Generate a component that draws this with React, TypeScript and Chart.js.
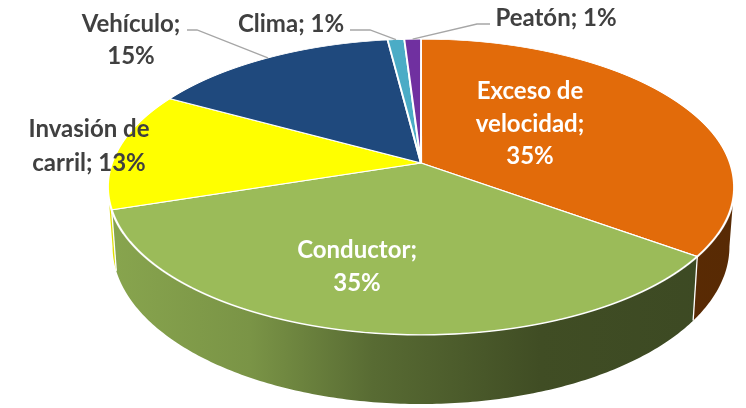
import React, { useEffect, useRef } from "react";
import { Chart, registerables } from "chart.js";

Chart.register(...registerables);

const categories = ["Exceso de velocidad", "Conductor", "Invasión de carril", "Vehículo", "Clima", "Peatón"];
const values = [35, 35, 13, 15, 1, 1];
const percentLabels = ["35%", "35%", "13%", "15%", "1%", "1%"];
const sliceColors = ["#E26B0A", "#9BBB59", "#FFFF00", "#1F497D", "#4BACC6", "#7030A0"];

// perspective view of the pie disk on screen
const CX = 421; // screen x of pie centre
const Y0 = 163; // screen y of pie centre (vertex)
const SX = 309; // horizontal scale
const SY = 144; // vertical scale
const K = 0.162; // perspective strength
const DEPTH = 58; // slab thickness
const BOTTOM_SHRINK = 0.985;

const FONT = "bold 24px Lato, 'Open Sans', sans-serif";

type LabelLayout = {
  lines: string[];
  x: number;
  y: number[];
  color: string;
  leader?: { from: [number, number]; elbow: [number, number] };
};
const labelLayout: LabelLayout[] = [
  { lines: ["Exceso de", "velocidad;", percentLabels[0]], x: 530, y: [90, 123, 155], color: "#FFFFFF" },
  { lines: ["Conductor;", percentLabels[1]], x: 357, y: [249, 282], color: "#FFFFFF" },
  { lines: ["Invasión de", "carril; " + percentLabels[2]], x: 89, y: [128, 162], color: "#404040" },
  { lines: ["Vehículo;", percentLabels[3]], x: 131, y: [23, 55], color: "#404040", leader: { from: [187, 30], elbow: [197, 30] } },
  { lines: ["Clima; " + percentLabels[4]], x: 291, y: [23], color: "#404040", leader: { from: [350, 30], elbow: [370, 30] } },
  { lines: ["Peatón; " + percentLabels[5]], x: 556, y: [17], color: "#404040", leader: { from: [490, 24], elbow: [477, 24] } },
];

function hexToRgb(h: string) {
  const n = parseInt(h.slice(1), 16);
  return [(n >> 16) & 255, (n >> 8) & 255, n & 255];
}
function shade(h: string, f: number) {
  const [r, g, b] = hexToRgb(h);
  return `rgb(${Math.round(r * f)},${Math.round(g * f)},${Math.round(b * f)})`;
}
const shadeStops: [number, number][] = [
  [108, 0.88],
  [250, 0.79],
  [373, 0.57],
  [540, 0.41],
  [734, 0.39],
];

// project a point of the unit disk (u right, v toward viewer), h = 0 top face, 1 bottom
function project(u: number, v: number, h: number): [number, number] {
  const w = 1 - K * v;
  const sx = h ? BOTTOM_SHRINK : 1;
  return [CX + (SX * u * sx) / w, Y0 + (SY * v + DEPTH * h) / w];
}

const pie3dPlugin = {
  id: "pie3d",
  beforeDatasetsDraw(chart: any) {
    const ctx = chart.ctx as CanvasRenderingContext2D;
    const meta = chart.getDatasetMeta(0);
    const arcs = meta.data as any[];
    if (!arcs.length) return;
    const lo = Math.asin(K);
    const hi = Math.PI - lo;
    // side walls
    arcs.forEach((arc: any, i: number) => {
      const a0 = Math.max(arc.startAngle, lo);
      const a1 = Math.min(arc.endAngle, hi);
      if (a1 <= a0) return;
      const n = Math.max(4, Math.ceil((a1 - a0) * 80));
      const top: [number, number][] = [];
      const bot: [number, number][] = [];
      for (let j = 0; j <= n; j++) {
        const t = a0 + ((a1 - a0) * j) / n;
        top.push(project(Math.cos(t), Math.sin(t), 0));
        bot.push(project(Math.cos(t), Math.sin(t), 1));
      }
      const g = ctx.createLinearGradient(108, 0, 734, 0);
      shadeStops.forEach(([x, f]) => g.addColorStop((x - 108) / (734 - 108), shade(sliceColors[i], f)));
      ctx.save();
      ctx.beginPath();
      top.forEach((p, j) => (j ? ctx.lineTo(p[0], p[1]) : ctx.moveTo(p[0], p[1])));
      for (let j = bot.length - 1; j >= 0; j--) ctx.lineTo(bot[j][0], bot[j][1]);
      ctx.closePath();
      ctx.fillStyle = g;
      ctx.fill();
      if (arc.startAngle > lo) {
        ctx.strokeStyle = "#FFFFFF";
        ctx.lineWidth = 1.3;
        ctx.beginPath();
        ctx.moveTo(top[0][0], top[0][1]);
        ctx.lineTo(bot[0][0], bot[0][1]);
        ctx.stroke();
      }
      ctx.restore();
    });

    // top face: library arcs drawn row by row with a local affine approximation of the perspective
    const a = arcs[0];
    const R = a.outerRadius;
    const vOf = (y: number) => {
      const t = y - Y0;
      return t / (SY + K * t);
    };
    const yStart = Math.floor(Y0 - SY / (1 + K)) - 3;
    const yEnd = Math.ceil(Y0 + SY / (1 - K)) + 3;
    for (let y = yStart; y < yEnd; y++) {
      const v1 = vOf(y);
      const v2 = vOf(y + 1);
      const vm = (v1 + v2) / 2;
      const s = 1 / (1 - K * vm);
      const m = 1 / (v2 - v1);
      ctx.save();
      ctx.setTransform(1, 0, 0, 1, 0, 0);
      ctx.beginPath();
      ctx.rect(0, y, chart.width, 1);
      ctx.clip();
      ctx.setTransform((SX * s) / R, 0, 0, m / R, CX - (SX * s * a.x) / R, y - m * v1 - (m * a.y) / R);
      arcs.forEach((arc: any) => arc.draw(ctx));
      ctx.restore();
    }
    return false;
  },
  afterDraw(chart: any) {
    const ctx = chart.ctx as CanvasRenderingContext2D;
    const meta = chart.getDatasetMeta(0);
    const arcs = meta.data as any[];
    if (!arcs.length) return;
    ctx.save();
    ctx.font = FONT;
    ctx.textAlign = "center";
    ctx.textBaseline = "middle";
    labelLayout.forEach((lab, i) => {
      const arc = arcs[i];
      if (lab.leader) {
        const mid = (arc.startAngle + arc.endAngle) / 2;
        const [ex, ey] = project(Math.cos(mid), Math.sin(mid), 0);
        ctx.strokeStyle = "#A6A6A6";
        ctx.lineWidth = 1.3;
        ctx.beginPath();
        ctx.moveTo(lab.leader.from[0], lab.leader.from[1]);
        ctx.lineTo(lab.leader.elbow[0], lab.leader.elbow[1]);
        ctx.lineTo(ex, ey);
        ctx.stroke();
      }
      ctx.fillStyle = lab.color;
      lab.lines.forEach((t, k) => ctx.fillText(t, lab.x, lab.y[k] + 1));
    });
    ctx.restore();
  },
};

export default function App() {
  const ref = useRef<HTMLCanvasElement>(null);
  useEffect(() => {
    document.body.style.margin = "0";
    const chart = new Chart(ref.current as HTMLCanvasElement, {
      type: "pie",
      data: {
        labels: categories,
        datasets: [
          {
            data: values,
            backgroundColor: sliceColors,
            borderColor: "#FFFFFF",
            borderWidth: 1.4,
            clip: false,
          } as any,
        ],
      },
      options: {
        responsive: false,
        devicePixelRatio: 1,
        animation: false,
        events: [],
        plugins: { legend: { display: false }, tooltip: { enabled: false } },
      },
      plugins: [pie3dPlugin],
    });
    return () => chart.destroy();
  }, []);
  return (
    <div style={{ width: 746, height: 408, background: "#FFFFFF" }}>
      <canvas ref={ref} width={746} height={408} />
    </div>
  );
}
